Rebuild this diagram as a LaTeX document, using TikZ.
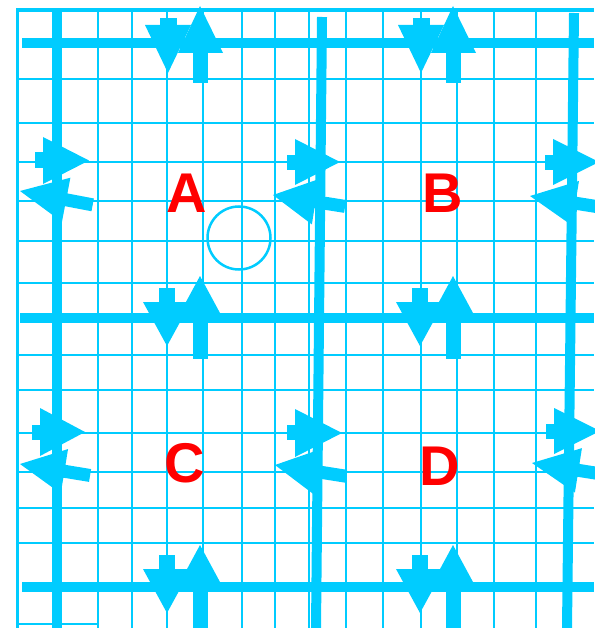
\documentclass[tikz,border=0pt]{standalone}
\usepackage{fontspec}
\setmainfont{Liberation Sans}
\definecolor{cy}{RGB}{0,204,255}
\definecolor{lblred}{RGB}{255,0,0}
\newcommand\myLarrow[6]{%
  \begin{scope}[shift={(#1,#2)},rotate=#3]
    \fill[cy] (0,0) -- (#4,-#6) -- (#4,-6.5) -- (#5,-6.5) -- (#5,6.5) -- (#4,6.5) -- (#4,#6) -- cycle;
  \end{scope}}
\begin{document}
\begin{tikzpicture}[x=1pt,y=-1pt,
  gridline/.style={cy,line width=2.8pt},
  borderline/.style={cy,line width=3.8pt},
  thickline/.style={cy,line width=10pt},
  lab/.style={text=lblred,font=\fontsize{56}{56}\selectfont\bfseries,inner sep=0pt,anchor=center}]
\useasboundingbox (0,0) rectangle (594,628);
% thin grid
\foreach \x in {98,132,167,203,242,275,309,346,383,421,457,494,536}
  \draw[gridline] (\x,10) -- (\x,628);
\foreach \y in {79,123,162,201,241,283,355,390,433,472,508,543}
  \draw[gridline] (17,\y) -- (594,\y);
\draw[borderline] (17.5,628) -- (17.5,10) -- (594,10);
\draw[gridline] (17,624) -- (98,624);
% thick lines
\draw[thickline] (22,43) -- (594,43);
\draw[thickline] (20,318) -- (594,318);
\draw[thickline] (22,587) -- (594,587);
\draw[thickline] (57,12) -- (57,628);
\draw[thickline] (322,17) -- (316,628);
\draw[thickline] (574,13) -- (567,628);
% circle
\draw[cy,line width=2.5pt] (239,238) circle[radius=31.5pt];
% vertical arrow pairs
\foreach \dx in {0,253}{
  \begin{scope}[shift={(\dx,0)}]
    % top
    \fill[cy] (160,18) rectangle (177,26);
    \fill[cy] (145,25) -- (191,25) -- (168,73) -- cycle;
    \fill[cy] (200,6) -- (223,53) -- (178,53) -- cycle;
    \fill[cy] (193,52) rectangle (208,83);
    % middle
    \fill[cy] (159,288) rectangle (175,303);
    \fill[cy] (143,302) -- (191,302) -- (167,346) -- cycle;
    \fill[cy] (200,276) -- (220,313) -- (180,313) -- cycle;
    \fill[cy] (193,312) rectangle (208,359);
    % bottom
    \fill[cy] (159,555) rectangle (175,570);
    \fill[cy] (143,569) -- (191,569) -- (167,613) -- cycle;
    \fill[cy] (200,545) -- (220,582) -- (180,582) -- cycle;
    \fill[cy] (193,581) rectangle (208,628);
  \end{scope}}
% right-pointing side arrows
\fill[cy] (35,152) rectangle (44,168);
\fill[cy] (43,137) -- (89,160.5) -- (43,184) -- cycle;
\fill[cy] (287,155) rectangle (296,170);
\fill[cy] (295,139) -- (340,162) -- (295,185) -- cycle;
\fill[cy] (545,155) rectangle (554,170);
\fill[cy] (553,139) -- (599,162) -- (553,185) -- cycle;
\fill[cy] (32,425) rectangle (41,440);
\fill[cy] (40,408) -- (85,432) -- (40,456) -- cycle;
\fill[cy] (287,425) rectangle (296,440);
\fill[cy] (295,409) -- (342,433) -- (295,457) -- cycle;
\fill[cy] (546,424) rectangle (555,439);
\fill[cy] (554,408) -- (600,431) -- (554,454) -- cycle;
% left-pointing tilted side arrows
\myLarrow{20}{191}{-10.8}{47}{74}{22.5}
\myLarrow{273}{195}{-9}{43}{73}{23}
\myLarrow{530}{196}{-9}{46}{80}{22.5}
\myLarrow{20}{464}{-9.3}{45}{71}{22.5}
\myLarrow{275}{465}{-9}{43}{72}{23}
\myLarrow{532}{463}{-9}{47}{80}{22.5}
% labels
\node[lab] (A) at (187,193) {A};
\node[lab] (B) at (443,193) {B};
\node[lab] (C) at (185,463) {C};
\node[lab] (D) at (440,466) {D};
\end{tikzpicture}
\end{document}
